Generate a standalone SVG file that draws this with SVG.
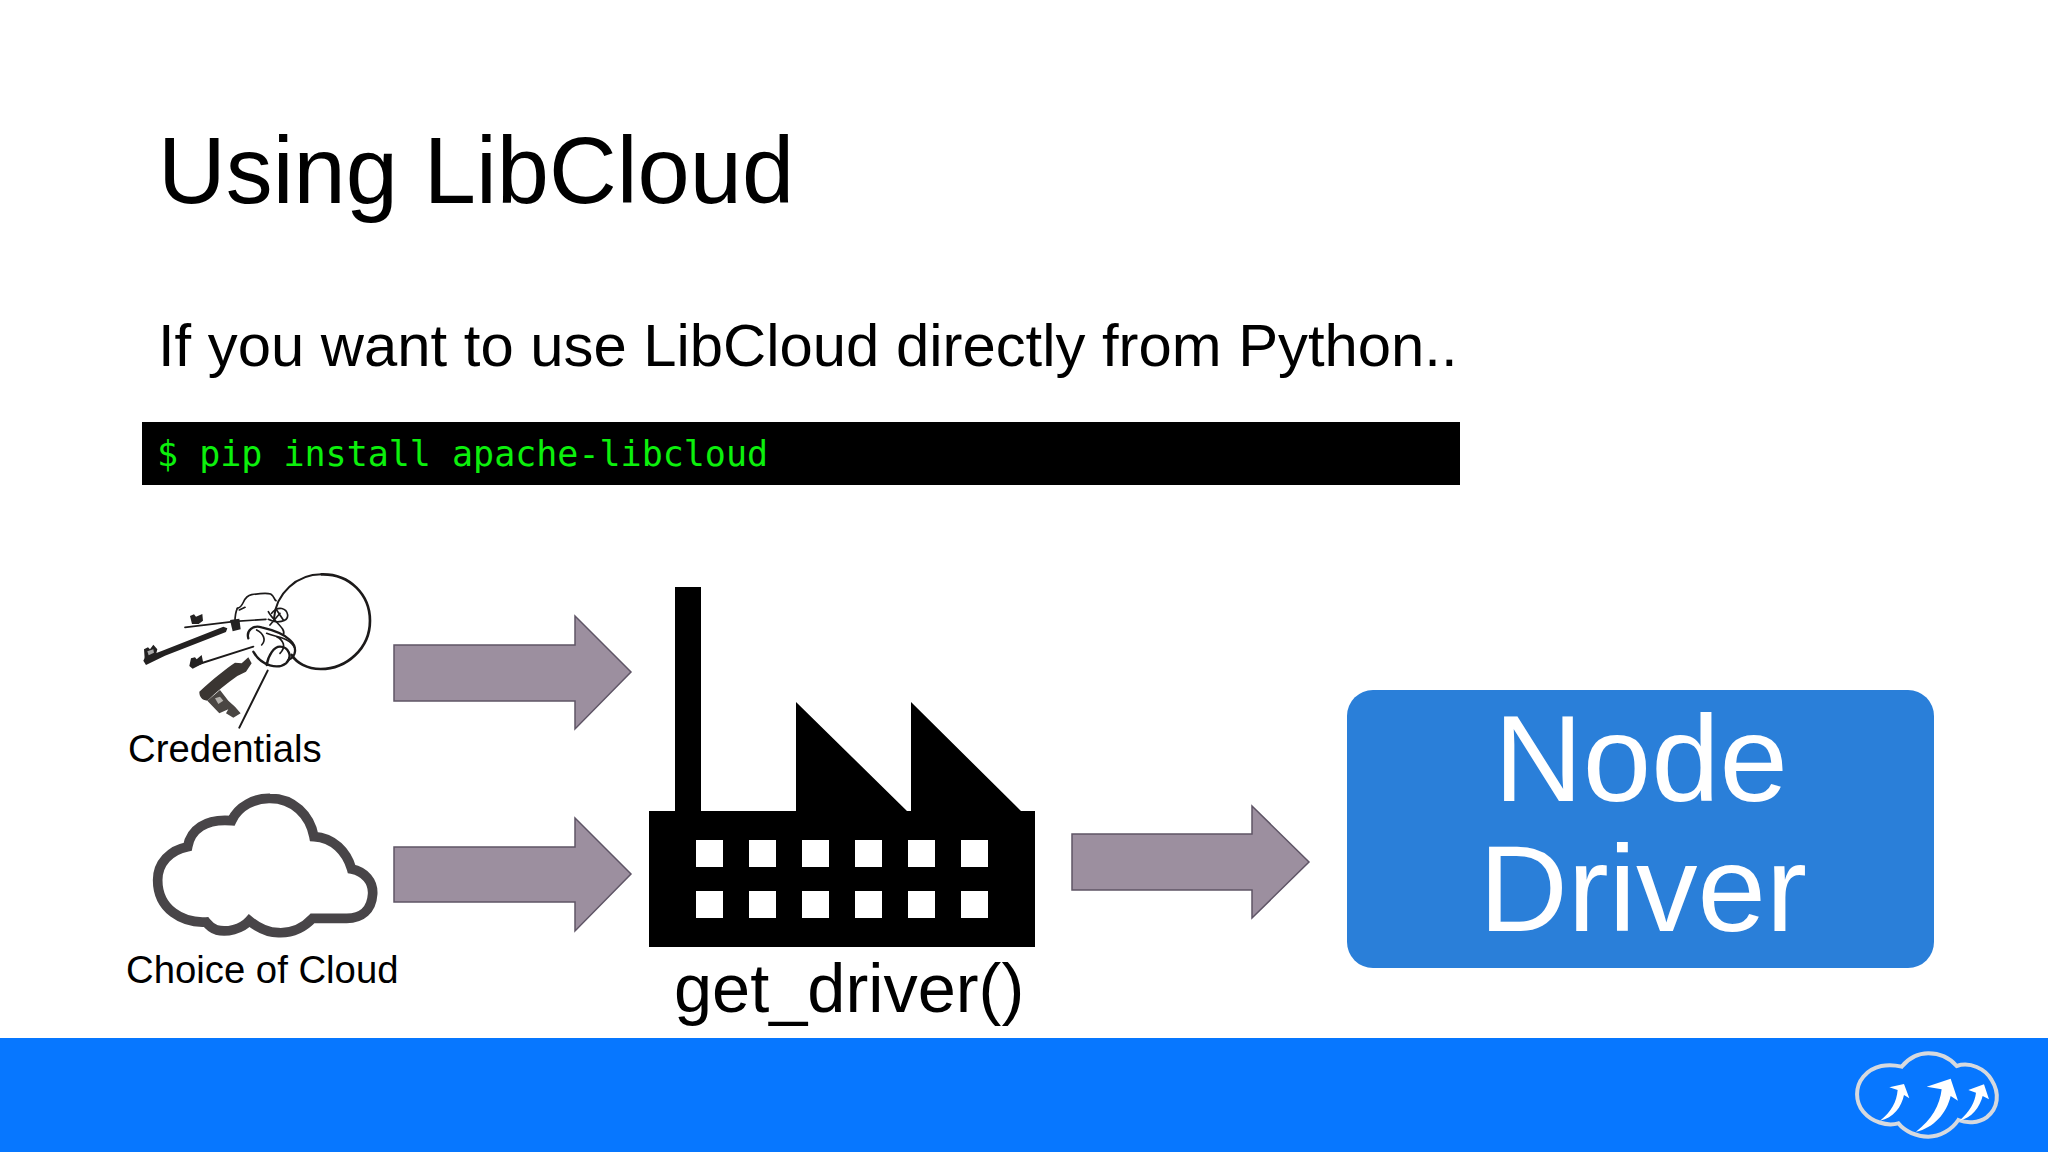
<svg xmlns="http://www.w3.org/2000/svg" width="2048" height="1152" viewBox="0 0 2048 1152">
<style>
text{font-family:"Liberation Sans",Arial,sans-serif;fill:#000}
.arrow{fill:#9c8f9f;stroke:#5f5566;stroke-width:1.5}
.win{fill:#fff}
.key{fill:none;stroke:#1c1a1a;stroke-linecap:round;stroke-linejoin:round}
.bit{fill:#232121}
</style>
<rect width="2048" height="1152" fill="#fff"/>
<rect y="1038" width="2048" height="114" fill="#0777ff"/>
<text x="158" y="203" font-size="93.8">Using LibCloud</text>
<text x="158" y="366" font-size="59.8">If you want to use LibCloud directly from Python..</text>
<g id="command">
<rect x="142" y="422" width="1318" height="63" fill="#000"/>
<text x="157" y="466" font-size="35" style="font-family:'DejaVu Sans Mono','Liberation Mono',monospace;fill:#0cf00c">$ pip install apache-libcloud</text>
</g>
<g id="credentials">
<g transform="translate(120,550) scale(.3333)">
<path class="key" stroke-width="8" d="M605 73C690 71 750 135 750 212C750 295 680 357 602 357C560 357 530 338 515 315"/>
<path class="key" stroke-width="6" d="M605 73C530 73 468 130 462 205"/>
<path class="key" stroke-width="5" d="M195 232L345 214L438 208"/>
<path class="bit" d="M210 198L222 193L228 200L247 192L249 212L236 222L216 222Z"/>
<path class="key" stroke-width="5" d="M352 175C375 170 365 140 395 134C420 130 440 128 452 132C465 140 462 150 468 152M358 180L375 172"/>
<path class="key" stroke-width="5" d="M352 175C345 190 345 205 345 215M445 208C470 222 505 215 503 195C500 175 475 165 455 190M470 180L490 210M450 225L480 190"/>
<path class="bit" d="M125 303L310 230L322 235L318 246L135 317L78 345L70 332L75 322Z"/>
<path class="bit" d="M330 210L358 206L362 238L338 244Z"/>
<path class="bit" d="M72 298L84 292L90 298L100 284L112 298L108 314L80 332L74 325Z"/>
<path d="M82 304L100 298L102 308L86 316Z" fill="#a8a8a8"/>
<path class="key" stroke-width="6" d="M218 348L400 290"/>
<path class="bit" d="M213 325L225 322L230 328L245 315L250 340L218 356L208 348Z"/>
<path class="key" stroke-width="7" d="M385 265C378 240 400 225 425 232C460 240 490 250 510 270C532 290 530 320 505 330"/>
<path class="key" stroke-width="7" d="M400 305C425 350 475 358 498 340C520 320 505 290 480 290C462 290 445 315 440 345"/>
<path class="key" stroke-width="5" d="M440 250C470 262 510 262 525 295M445 185C460 215 500 235 490 255M470 260C490 270 500 290 480 310M410 240C430 250 440 270 425 285"/>
<path d="M238 425C280 385 320 355 345 338L365 340L385 322L395 340L378 365L352 378C320 400 290 425 262 452C245 450 238 440 238 425Z" fill="#3a3532"/>
<path d="M262 452L300 420L325 452L345 470L362 490L340 503L318 490L325 478L298 490Z" fill="#4a4643"/>
<path d="M285 445L300 440L310 452L295 462Z" fill="#b5b2ae"/>
<path class="key" stroke-width="6" d="M358 533L443 362"/>
</g>
<text x="128" y="762" font-size="38.3">Credentials</text>
</g>
<g id="cloud">
<g transform="translate(120,770) scale(.3333)">
<path d="M203 230C212 180 255 145 335 152C355 108 405 84 450 85C520 85 570 135 582 200C640 203 680 245 695 297C735 305 760 335 758 372C755 420 725 445 680 445L578 445C550 475 515 490 475 488C440 488 410 470 388 452C365 478 320 488 290 480C275 475 265 465 258 456C190 460 113 420 113 330C113 280 150 240 203 230Z" fill="#fff" stroke="#484548" stroke-width="29" stroke-linejoin="miter"/>
</g>
<text x="126" y="983" font-size="38.3">Choice of Cloud</text>
</g>
<g id="connectors">
<path class="arrow" d="M394 645H575V616L631 672L575 729V701H394Z"/>
<path class="arrow" d="M394 847H575V818L631 874L575 931V902H394Z"/>
<path class="arrow" d="M1072 834H1252V806L1309 862L1252 918V890H1072Z"/>
</g>
<g id="factory">
<path d="M649 811H675V587H701V811H796V702L907 811H911V702L1021 811H1035V947H649Z" fill="#000"/>
<g class="win">
<rect x="696" y="840" width="27" height="27"/><rect x="749" y="840" width="27" height="27"/><rect x="802" y="840" width="27" height="27"/><rect x="855" y="840" width="27" height="27"/><rect x="908" y="840" width="27" height="27"/><rect x="961" y="840" width="27" height="27"/>
<rect x="696" y="891" width="27" height="27"/><rect x="749" y="891" width="27" height="27"/><rect x="802" y="891" width="27" height="27"/><rect x="855" y="891" width="27" height="27"/><rect x="908" y="891" width="27" height="27"/><rect x="961" y="891" width="27" height="27"/>
</g>
<text x="674" y="1012" font-size="68.5">get_driver()</text>
</g>
<g id="node-driver">
<rect x="1347" y="690" width="587" height="278" rx="26" fill="#2a7fd9"/>
<text x="1641" y="801" font-size="123" text-anchor="middle" style="fill:#fff">Node</text>
<text x="1643" y="931" font-size="123" text-anchor="middle" style="fill:#fff">Driver</text>
</g>
<g id="logo">
<g transform="translate(1830,1030) scale(.3333)">
<path d="M215 110C240 80 270 70 295 70C330 70 360 85 380 108C420 95 465 115 485 150C510 190 505 235 470 262C445 280 410 280 385 270C365 300 330 320 295 320C260 320 225 305 205 280C170 290 125 275 100 245C75 215 75 170 100 140C130 105 175 100 215 110Z" fill="#0777ff" stroke="#d6d9de" stroke-width="12"/>
<path d="M178 172L222 162L238 205L222 195C215 230 190 265 150 272C185 245 200 215 203 180Z" fill="#fff"/>
<path d="M290 170L362 146L384 212L362 198C350 250 310 295 258 305C305 270 330 225 335 178Z" fill="#fff"/>
<path d="M415 180L462 163L477 208L458 198C450 230 425 265 388 272C420 245 435 215 438 188Z" fill="#fff"/>
</g>
</g>
</svg>
